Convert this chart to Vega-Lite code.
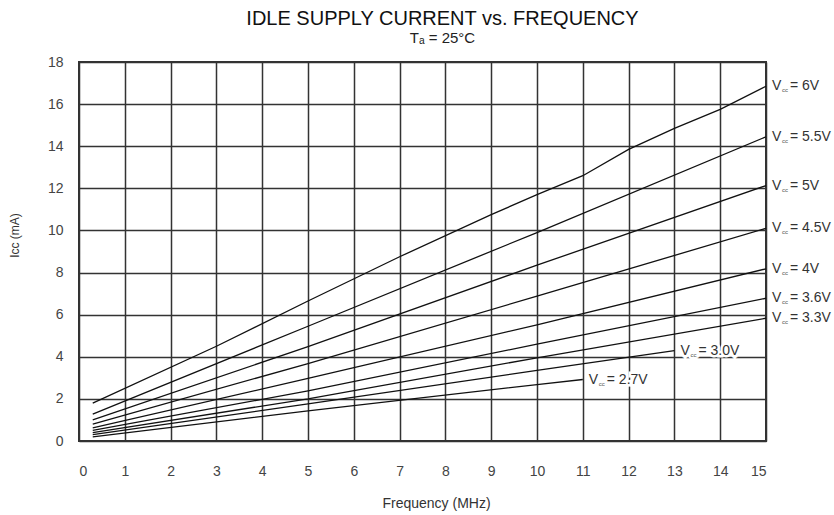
{
  "$schema": "https://vega.github.io/schema/vega-lite/v6.json",
  "width": 687,
  "height": 379,
  "autosize": {"type": "none"},
  "padding": {"left": 79, "top": 62, "right": 68, "bottom": 74},
  "background": "white",
  "title": {
    "text": "IDLE SUPPLY CURRENT vs. FREQUENCY",
    "subtitle": "Tₐ = 25°C",
    "anchor": "middle",
    "frame": "group",
    "dx": 20,
    "offset": 9,
    "font": "Liberation Sans",
    "fontSize": 20,
    "fontWeight": "normal",
    "color": "#111",
    "subtitleFont": "Liberation Sans",
    "subtitleFontSize": 15,
    "subtitleColor": "#222",
    "subtitlePadding": 2
  },
  "config": {
    "view": {"stroke": "#333", "strokeWidth": 2},
    "axis": {
      "labelFont": "Liberation Sans",
      "labelFontSize": 14,
      "labelColor": "#444",
      "titleFont": "Liberation Sans",
      "titleFontWeight": "normal",
      "titleColor": "#333",
      "gridColor": "#333",
      "gridWidth": 1.5,
      "gridOpacity": 1,
      "ticks": false,
      "domain": false
    }
  },
  "data": {
    "values": [
      {"v": "6V", "f": 0.3, "i": 1.8},
      {"v": "6V", "f": 3, "i": 4.5},
      {"v": "6V", "f": 5, "i": 6.65},
      {"v": "6V", "f": 7, "i": 8.75},
      {"v": "6V", "f": 9, "i": 10.75},
      {"v": "6V", "f": 10, "i": 11.7},
      {"v": "6V", "f": 11, "i": 12.6},
      {"v": "6V", "f": 12, "i": 13.85},
      {"v": "6V", "f": 13, "i": 14.85},
      {"v": "6V", "f": 14, "i": 15.75},
      {"v": "6V", "f": 15, "i": 16.85},
      {"v": "5.5V", "f": 0.3, "i": 1.28},
      {"v": "5.5V", "f": 5, "i": 5.45},
      {"v": "5.5V", "f": 10, "i": 9.9},
      {"v": "5.5V", "f": 15, "i": 14.45},
      {"v": "5V", "f": 0.3, "i": 1.0},
      {"v": "5V", "f": 5, "i": 4.48},
      {"v": "5V", "f": 10, "i": 8.35},
      {"v": "5V", "f": 15, "i": 12.13},
      {"v": "4.5V", "f": 0.3, "i": 0.8},
      {"v": "4.5V", "f": 5, "i": 3.68},
      {"v": "4.5V", "f": 10, "i": 6.88},
      {"v": "4.5V", "f": 15, "i": 10.1},
      {"v": "4V", "f": 0.3, "i": 0.62},
      {"v": "4V", "f": 5, "i": 2.97},
      {"v": "4V", "f": 10, "i": 5.52},
      {"v": "4V", "f": 15, "i": 8.18},
      {"v": "3.6V", "f": 0.3, "i": 0.5},
      {"v": "3.6V", "f": 5, "i": 2.38},
      {"v": "3.6V", "f": 10, "i": 4.6},
      {"v": "3.6V", "f": 15, "i": 6.78},
      {"v": "3.3V", "f": 0.3, "i": 0.4},
      {"v": "3.3V", "f": 5, "i": 2.0},
      {"v": "3.3V", "f": 10, "i": 3.95},
      {"v": "3.3V", "f": 15, "i": 5.83},
      {"v": "3.0V", "f": 0.3, "i": 0.3},
      {"v": "3.0V", "f": 5, "i": 1.76},
      {"v": "3.0V", "f": 10, "i": 3.35},
      {"v": "3.0V", "f": 13, "i": 4.29},
      {"v": "2.7V", "f": 0.3, "i": 0.2},
      {"v": "2.7V", "f": 5, "i": 1.43},
      {"v": "2.7V", "f": 10, "i": 2.68},
      {"v": "2.7V", "f": 11, "i": 2.92}
    ]
  },
  "encoding": {
    "x": {
      "field": "f",
      "type": "quantitative",
      "scale": {"domain": [0, 15], "nice": false, "zero": false},
      "axis": {
        "values": [0,1,2,3,4,5,6,7,8,9,10,11,12,13,14,15],
        "title": "Frequency (MHz)",
        "titleFontSize": 14,
        "labelPadding": 23,
        "titlePadding": 18,
        "titleX": 357
      }
    },
    "y": {
      "field": "i",
      "type": "quantitative",
      "scale": {"domain": [0, 18], "nice": false},
      "axis": {
        "values": [0,2,4,6,8,10,12,14,16,18],
        "title": "Icc (mA)",
        "titleFontSize": 12,
        "labelPadding": 16,
        "titleX": -65,
        "titleY": 173,
        "titleAlign": "center",
        "titleBaseline": "middle",
        "titleAngle": 270
      }
    }
  },
  "layer": [
    {
      "mark": {"type": "line", "color": "#111", "strokeWidth": 1.3},
      "encoding": {"detail": {"field": "v"}}
    },
    {
      "transform": [
        {"joinaggregate": [{"op": "max", "field": "f", "as": "fmax"}], "groupby": ["v"]},
        {"filter": "datum.f === datum.fmax"},
        {"calculate": "'= ' + datum.v", "as": "rest"}
      ],
      "layer": [
        {
          "mark": {"type": "text", "text": "V", "align": "left", "baseline": "middle", "dx": 6, "font": "Liberation Sans", "fontSize": 14, "color": "white", "stroke": "white", "strokeWidth": 5}
        },
        {
          "mark": {"type": "text", "text": "cc", "align": "left", "baseline": "middle", "dx": 16, "dy": 4, "font": "Liberation Sans", "fontSize": 6, "color": "white", "stroke": "white", "strokeWidth": 5}
        },
        {
          "mark": {"type": "text", "align": "left", "baseline": "middle", "dx": 24, "font": "Liberation Sans", "fontSize": 14, "color": "white", "stroke": "white", "strokeWidth": 5},
          "encoding": {"text": {"field": "rest"}}
        },
        {
          "mark": {"type": "text", "text": "V", "align": "left", "baseline": "middle", "dx": 6, "font": "Liberation Sans", "fontSize": 14, "color": "#333"}
        },
        {
          "mark": {"type": "text", "text": "cc", "align": "left", "baseline": "middle", "dx": 16, "dy": 4, "font": "Liberation Sans", "fontSize": 6, "color": "#555"}
        },
        {
          "mark": {"type": "text", "align": "left", "baseline": "middle", "dx": 24, "font": "Liberation Sans", "fontSize": 14, "color": "#333"},
          "encoding": {"text": {"field": "rest"}}
        }
      ]
    }
  ]
}
